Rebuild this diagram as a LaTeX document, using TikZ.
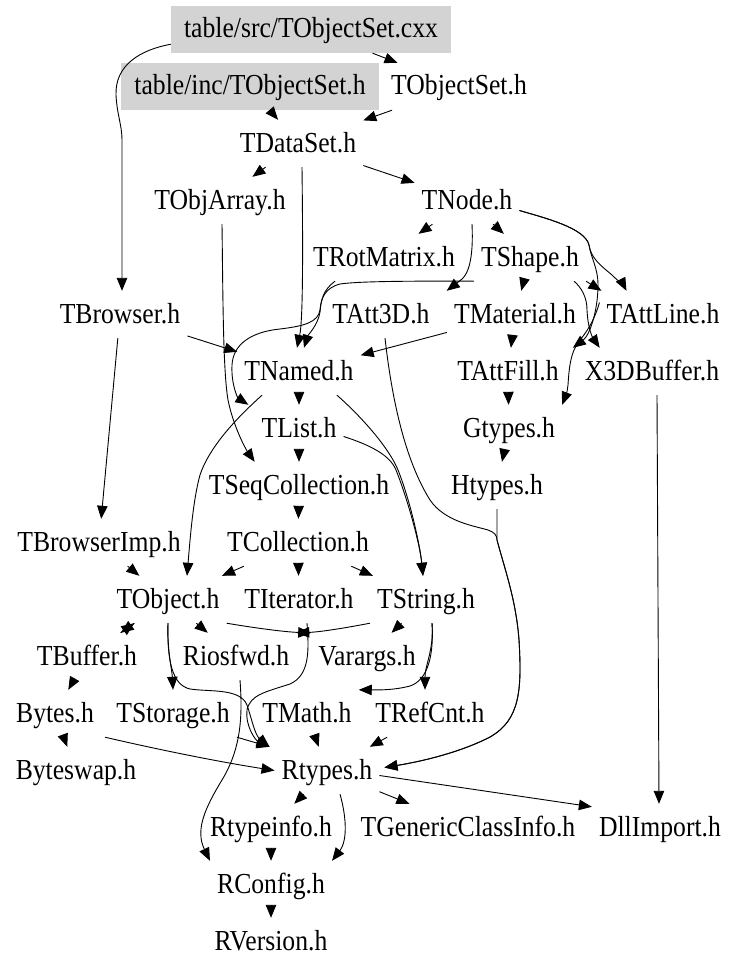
\documentclass[tikz,border=0pt]{standalone}
\usepackage{fontspec}
\setmainfont{Liberation Serif}[FakeStretch=0.885]
\usetikzlibrary{arrows.meta}
\definecolor{boxgray}{RGB}{211,211,211}
\begin{document}
\begin{tikzpicture}[x=1pt,y=-1pt,
  file/.style={font=\fontsize{29}{30}\selectfont, anchor=base, inner xsep=7pt, inner ysep=8pt, text height=24pt, text depth=7pt},
  gfile/.style={file, fill=boxgray, inner xsep=13pt},
  edge/.style={draw, line width=0.9pt, -{Triangle[length=13pt,width=10.5pt]}}]
\useasboundingbox (0,0) rectangle (737,971);
% nodes
\node[gfile] (cxx) at (311,38) {table/src/TObjectSet.cxx};
\node[gfile] (inc) at (250,95) {table/inc/TObjectSet.h};
\node[file] (tobjectset) at (459,95) {TObjectSet.h};
\node[file] (tdataset) at (298,152) {TDataSet.h};
\node[file] (tobjarray) at (220,209) {TObjArray.h};
\node[file] (tnode) at (467,209) {TNode.h};
\node[file] (trotmatrix) at (384,266) {TRotMatrix.h};
\node[file] (tshape) at (530,266) {TShape.h};
\node[file] (tbrowser) at (120,323) {TBrowser.h};
\node[file] (tatt3d) at (381,323) {TAtt3D.h};
\node[file] (tmaterial) at (515,323) {TMaterial.h};
\node[file] (tattline) at (663,323) {TAttLine.h};
\node[file] (tnamed) at (299,380) {TNamed.h};
\node[file] (tattfill) at (508,380) {TAttFill.h};
\node[file] (x3dbuffer) at (652,380) {X3DBuffer.h};
\node[file] (tlist) at (299,437) {TList.h};
\node[file] (gtypes) at (509,437) {Gtypes.h};
\node[file] (tseqcoll) at (299,494) {TSeqCollection.h};
\node[file] (htypes) at (497,494) {Htypes.h};
\node[file] (tbrowserimp) at (99,551) {TBrowserImp.h};
\node[file] (tcollection) at (298,551) {TCollection.h};
\node[file] (tobject) at (168,608) {TObject.h};
\node[file] (titerator) at (299,608) {TIterator.h};
\node[file] (tstring) at (426,608) {TString.h};
\node[file] (tbuffer) at (87,665) {TBuffer.h};
\node[file] (riosfwd) at (236,665) {Riosfwd.h};
\node[file] (varargs) at (367,665) {Varargs.h};
\node[file] (bytes) at (55,722) {Bytes.h};
\node[file] (tstorage) at (173,722) {TStorage.h};
\node[file] (tmath) at (307,722) {TMath.h};
\node[file] (trefcnt) at (430,722) {TRefCnt.h};
\node[file] (byteswap) at (76,779) {Byteswap.h};
\node[file] (rtypes) at (327,779) {Rtypes.h};
\node[file] (rtypeinfo) at (271,836) {Rtypeinfo.h};
\node[file] (tgeneric) at (468,836) {TGenericClassInfo.h};
\node[file] (dllimport) at (660,836) {DllImport.h};
\node[file] (rconfig) at (271,893) {RConfig.h};
\node[file] (rversion) at (271,950) {RVersion.h};
% edges
\draw[edge] (cxx) -- (tobjectset);
\draw[edge] ([yshift=9pt]cxx.south west) .. controls (140,50) and (115,65) .. (116,95) .. controls (117,115) and (122,125) .. (122,140) -- ([xshift=2pt]tbrowser.north);
\draw[edge] (inc) -- (tdataset);
\draw[edge] (tobjectset) -- (tdataset);
\draw[edge] (tdataset) -- (tobjarray);
\draw[edge] ([xshift=4pt]tdataset.south) .. controls (303,250) and (303,320) .. ([xshift=-2pt]tnamed.north);
\draw[edge] (tdataset) -- (tnode);
\draw[edge] (tnode) -- (trotmatrix);
\draw[edge] (tnode) -- (tshape);
\draw[edge] ([xshift=5pt]tnode.south) .. controls (473,245) and (472,270) .. (462,279) .. controls (457,283) .. ([xshift=10pt]tatt3d.north east);
\draw[edge] ([yshift=-10pt]tnode.east) .. controls (545,218) and (585,228) .. (589,245) .. controls (591,258) and (600,265) .. (612,275) .. controls (618,281) and (624,286) .. ([xshift=27pt]tattline.north west);
\draw[edge] ([yshift=-10pt]tnode.east) .. controls (545,218) and (585,228) .. (589,245) .. controls (591,258) and (598,268) .. (598,285) .. controls (598,310) and (590,335) .. ([xshift=7pt]tattfill.north east);
\draw[edge] ([xshift=-49pt]trotmatrix.south) .. controls (323,290) and (321,300) .. (320,312) .. controls (318,325) and (308,335) .. ([xshift=5pt]tnamed.north);
\draw[edge] (tshape.south west) .. controls (420,281) and (360,281) .. (340,284) .. controls (325,288) and (321,298) .. (320,310) .. controls (318,322) and (305,326) .. (280,329) .. controls (250,332) and (233,345) .. (232,365) .. controls (231,385) and (238,398) .. ([xshift=-6pt]tlist.north west);
\draw[edge] (tshape) -- (tmaterial);
\draw[edge] (tshape.south east) -- ([xshift=2pt]tattline.north west);
\draw[edge] ([xshift=-12pt]tshape.south east) .. controls (582,288) and (587,298) .. (587,310) .. controls (588,330) and (593,338) .. ([xshift=22pt]x3dbuffer.north west);
\draw[edge] ([yshift=12pt]tattline.west) .. controls (596,315) and (590,328) .. (580,340) .. controls (570,352) and (569,370) .. (568,385) .. controls (567,392) .. (gtypes.north east);
\draw[edge] (tbrowser) -- (tbrowserimp);
\draw[edge] (tbrowser) -- (tnamed);
\draw[edge] ([xshift=4pt]tatt3d.south) .. controls (392,400) and (405,460) .. (430,500) .. controls (445,522) and (475,526) .. (488,530) .. controls (494,532) and (497,535) .. (497,540) .. controls (505,570) and (516,600) .. (519,640) .. controls (522,690) and (520,720) .. (490,737) .. controls (465,750) and (430,760) .. ([xshift=5pt,yshift=3pt]rtypes.east);
\draw[edge] (htypes.south) -- (497,540) .. controls (505,570) and (516,600) .. (519,640) .. controls (522,690) and (520,720) .. (490,737) .. controls (465,750) and (430,760) .. ([xshift=5pt,yshift=3pt]rtypes.east);
\draw[edge] ([xshift=5pt]x3dbuffer.south) -- ([xshift=-1pt]dllimport.north);
\draw[edge] ([xshift=2pt]tobjarray.south) .. controls (223,300) and (223,370) .. (228,400) .. controls (233,425) and (245,448) .. ([xshift=53pt]tseqcoll.north west);
\draw[edge] (tmaterial) -- (tattfill);
\draw[edge] (tmaterial) -- (tnamed);
\draw[edge] (tattfill) -- (gtypes);
\draw[edge] (gtypes) -- (htypes);
\draw[edge] (tnamed) -- (tlist);
\draw[edge] ([xshift=-37pt]tnamed.south) .. controls (240,415) and (210,445) .. (200,475) .. controls (193,500) and (190,540) .. ([xshift=19pt]tobject.north);
\draw[edge] ([xshift=38pt]tnamed.south) .. controls (365,420) and (390,450) .. (398,470) .. controls (410,500) and (420,545) .. ([xshift=-3pt]tstring.north);
\draw[edge] ([yshift=-8pt]tlist.east) .. controls (370,445) and (390,455) .. (396,470) .. controls (408,500) and (420,545) .. ([xshift=-3pt]tstring.north);
\draw[edge] (tlist) -- (tseqcoll);
\draw[edge] (tseqcoll) -- (tcollection);
\draw[edge] (tcollection) -- (tobject);
\draw[edge] (tcollection) -- (titerator);
\draw[edge] (tcollection) -- (tstring);
\draw[edge] (tbrowserimp) -- (tobject);
\draw[edge] (tobject) -- (tbuffer);
\draw[edge] (tbuffer) -- (tobject);
\draw[edge] (tobject) -- (riosfwd);
\draw[edge] (tobject.south east) .. controls (255,628) and (285,632) .. (varargs.north west);
\draw[edge] (tstring.south west) .. controls (345,628) and (320,632) .. (riosfwd.north east);
\draw[edge] (tobject.south) .. controls (167,650) and (172,670) .. (tstorage.north);
\draw[edge] (tobject.south) .. controls (167,660) and (172,685) .. (190,689) .. controls (210,692) and (240,688) .. (247,705) .. controls (252,720) and (255,735) .. ([xshift=-5pt]rtypes.north west);
\draw[edge] (tstorage.south east) -- ([xshift=-5pt]rtypes.north west);
\draw[edge] ([xshift=8pt]titerator.south) .. controls (309,650) and (310,675) .. (290,684) .. controls (265,692) and (250,695) .. (247,710) .. controls (245,725) and (255,740) .. ([xshift=-5pt]rtypes.north west);
\draw[edge] (tstring) -- (varargs);
\draw[edge] ([xshift=6pt]tstring.south) .. controls (434,650) and (425,665) .. ([xshift=-5pt]trefcnt.north);
\draw[edge] ([xshift=6pt]tstring.south) .. controls (434,655) and (428,680) .. (410,686) .. controls (395,690) and (380,690) .. (tmath.north east);
\draw[edge] (tbuffer) -- (bytes);
\draw[edge] (bytes) -- (byteswap);
\draw[edge] ([xshift=4pt]bytes.south east) .. controls (160,750) and (220,762) .. (rtypes.west);
\draw[edge] (tmath) -- (rtypes);
\draw[edge] (trefcnt) -- (rtypes);
\draw[edge] (rtypes) -- (rtypeinfo);
\draw[edge] (rtypes) -- (tgeneric);
\draw[edge] ([yshift=-5pt]rtypes.east) -- ([yshift=-3pt]dllimport.north west);
\draw[edge] ([xshift=13pt]rtypes.south) .. controls (346,815) and (348,840) .. (rconfig.north east);
\draw[edge] ([xshift=4pt]riosfwd.south) .. controls (243,720) and (240,750) .. (222,780) .. controls (205,808) and (195,830) .. (rconfig.north west);
\draw[edge] (rtypeinfo) -- (rconfig);
\draw[edge] (rconfig) -- (rversion);
\end{tikzpicture}
\end{document}
